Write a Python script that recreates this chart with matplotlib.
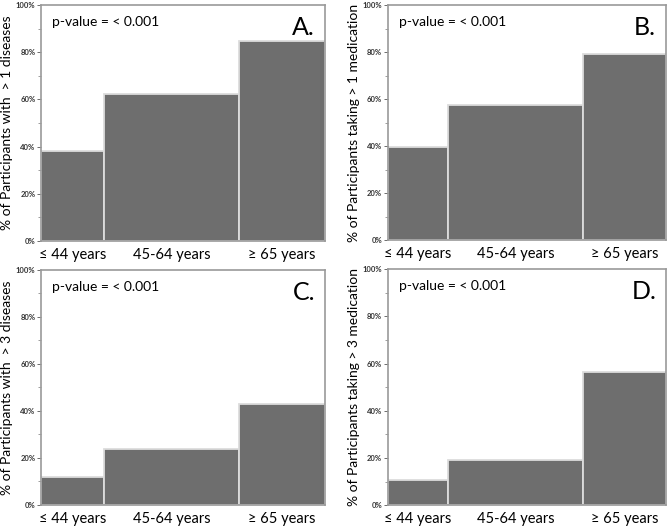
import matplotlib
matplotlib.use("Agg")
from matplotlib import pyplot as plt
from matplotlib.ticker import MultipleLocator
import numpy as np

plt.rcParams['font.family'] = ['Lato', 'DejaVu Sans']

# Age groups and relative group sizes (bar widths, share of participants)
age_groups = ["≤ 44 years", "45-64 years", "≥ 65 years"]
share_AC = [22.3, 47.5, 30.2]
share_BD = [21.8, 48.5, 29.7]

# Percentages per panel
pct_A = [38.1, 62.2, 84.7]   # > 1 diseases
pct_B = [39.7, 57.3, 79.1]   # > 1 medication
pct_C = [12.0, 23.8, 43.0]   # > 3 diseases
pct_D = [10.9, 19.3, 56.3]   # > 3 medication

ylabels = ["% of Participants with  > 1 diseases",
           "% of Participants taking > 1 medication",
           "% of Participants with  > 3 diseases",
           "% of Participants taking > 3 medication"]
letters = ["A.", "B.", "C.", "D."]
pvalue = "p-value = < 0.001"

panels = [(pct_A, share_AC), (pct_B, share_BD), (pct_C, share_AC), (pct_D, share_BD)]

# axes boxes in figure fractions
boxes = [[0.0613, 0.5444, 0.4245, 0.446],
         [0.5795, 0.5463, 0.4160, 0.4442],
         [0.0613, 0.0454, 0.4245, 0.4442],
         [0.5795, 0.0446, 0.4160, 0.4469]]

fig = plt.figure(figsize=(6.69, 5.29), dpi=100)

for i, (pct, share) in enumerate(panels):
    ax = fig.add_axes(boxes[i])
    share = np.asarray(share)
    widths = share / share.sum()
    lefts = np.concatenate([[0], np.cumsum(widths)[:-1]])
    ax.bar(lefts, pct, width=widths, align="edge", color="#6e6e6e",
           edgecolor="#dcdcdc", linewidth=1.3)
    ax.set_xlim(0, 1)
    ax.set_ylim(0, 100)
    ax.set_xticks(lefts + widths / 2)
    ax.set_xticklabels(age_groups, fontsize=10.5)
    ax.tick_params(axis="x", length=0, pad=5)
    ax.yaxis.set_minor_locator(MultipleLocator(10))
    ax.set_yticks(np.arange(0, 101, 20))
    ax.set_yticklabels([f"{v}%" for v in range(0, 101, 20)], fontsize=5.5,
                       fontweight="bold", color="#333333")
    ax.tick_params(axis="y", which="major", length=3, width=0.6, color="#555555", pad=1)
    ax.tick_params(axis="y", which="minor", length=2, width=0.5, color="#777777")
    for sp in ax.spines.values():
        sp.set_color("#9a9a9a")
        sp.set_linewidth(1.2)
    ax.set_ylabel(ylabels[i], fontsize=10, labelpad=2)
    ax.text(0.04, 0.955, pvalue, transform=ax.transAxes, fontsize=10,
            ha="left", va="top")
    ax.text(0.965, 0.955, letters[i], transform=ax.transAxes, fontsize=18,
            ha="right", va="top")

fig.savefig("out.png", dpi=100)
